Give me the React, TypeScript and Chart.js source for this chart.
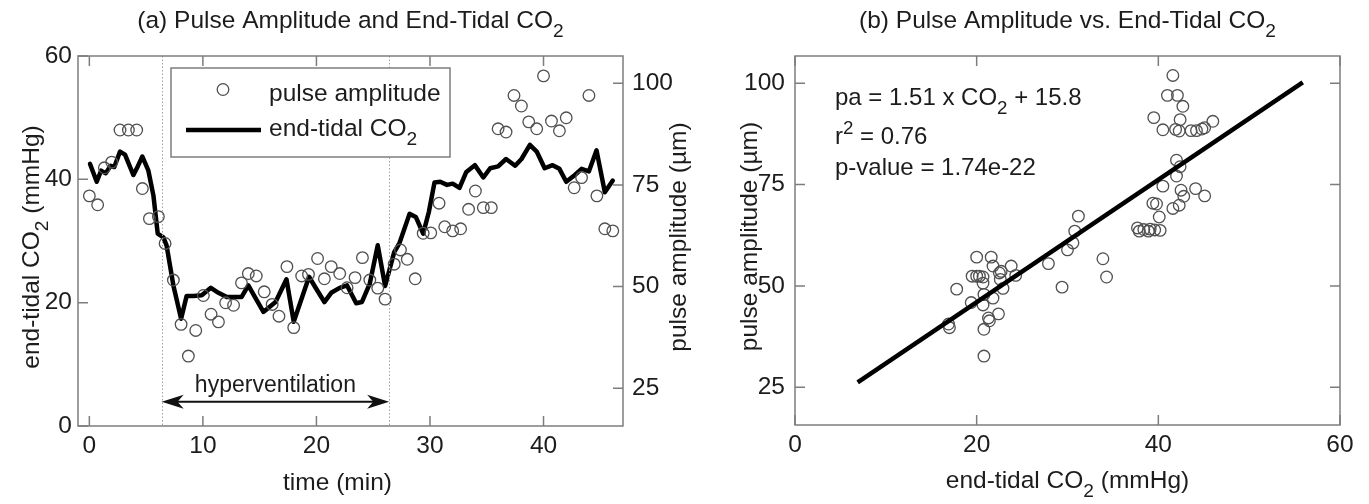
import React, { useEffect, useRef } from 'react';
import { Chart, registerables } from 'chart.js';

Chart.register(...registerables);

// ---------- data ----------
// Panel (a): pulse amplitude samples (right axis)
const paTime = [0.0, 0.73, 1.32, 1.97, 2.7, 3.44, 4.17, 4.67, 5.29, 6.08,
  6.67, 7.4, 8.08, 8.72, 9.37, 10.04, 10.72, 11.37, 12.0, 12.7,
  13.4, 14.0, 14.7, 15.4, 16.1, 16.7, 17.4, 18.0, 18.7, 19.3,
  20.1, 20.7, 21.3, 22.05, 22.7, 23.4, 24.05, 24.7, 25.4, 26.05,
  26.85, 27.4, 28.0, 28.7, 29.4, 30.07, 30.8, 31.3, 32.0, 32.7,
  33.4, 34.0, 34.7, 35.4, 36.0, 36.7, 37.4, 38.05, 38.7, 39.4,
  40.0, 40.7, 41.4, 42.0, 42.7, 43.35, 44.0, 44.7, 45.4, 46.1];
const paValues = [72.3, 70.1, 79.2, 80.6, 88.5, 88.5, 88.5, 74.1, 66.7, 67.2,
  60.6, 51.6, 40.7, 32.9, 39.2, 47.8, 43.2, 41.3, 46.0, 45.4,
  50.9, 53.2, 52.6, 48.7, 45.6, 42.7, 54.9, 39.9, 52.6, 53.0,
  56.9, 51.9, 54.9, 53.2, 49.7, 52.2, 57.1, 51.6, 49.6, 46.9,
  55.5, 59.0, 56.7, 51.9, 63.1, 63.2, 70.5, 64.7, 63.7, 64.2,
  69.0, 73.5, 69.4, 69.4, 88.8, 88.0, 97.0, 94.4, 90.5, 88.8,
  101.8, 90.7, 88.3, 91.5, 74.3, 76.8, 97.0, 72.3, 64.2, 63.7];

// Panel (a): end-tidal CO2 trace (left axis)
const co2Time = [0.06, 0.65, 1.03, 1.44, 1.88, 2.2, 2.7, 3.14, 3.88, 4.26,
  4.67, 5.2, 5.64, 6.02, 6.52, 6.8, 7.4, 8.08, 8.57, 9.16,
  9.9, 10.7, 11.37, 12.1, 13.4, 14.0, 14.65, 15.33, 16.4, 17.36,
  18.0, 19.35, 19.9, 20.7, 21.3, 22.05, 22.7, 23.5, 24.0, 24.7,
  25.4, 26.05, 26.85, 27.3, 28.2, 28.75, 29.4, 29.9, 30.4, 30.9,
  31.5, 32.0, 32.6, 33.2, 33.95, 34.7, 35.3, 36.0, 36.7, 37.5,
  38.06, 38.8, 39.4, 40.1, 40.8, 41.4, 42.0, 42.76, 43.35, 44.0,
  44.67, 45.4, 46.1];
const co2Values = [42.5, 39.6, 41.4, 41.0, 42.2, 42.0, 44.5, 44.0, 40.7, 42.1,
  43.7, 41.4, 37.4, 31.2, 30.6, 29.3, 22.8, 17.4, 21.1, 21.1,
  21.2, 22.4, 21.6, 20.9, 20.9, 22.8, 20.7, 18.5, 20.1, 23.8,
  16.9, 24.2, 22.5, 20.1, 21.6, 22.4, 22.8, 19.9, 20.1, 23.1,
  29.3, 22.7, 28.2, 29.6, 34.4, 33.9, 31.2, 34.7, 39.5, 39.6,
  39.1, 39.3, 38.6, 41.2, 42.3, 40.3, 41.8, 42.1, 43.3, 42.2,
  43.3, 45.6, 44.5, 41.8, 42.3, 41.7, 39.6, 40.7, 41.7, 41.3,
  44.7, 37.9, 39.8];

// Hyperventilation period (min) and annotation heights (mmHg)
const hyperStart = 6.37;
const hyperEnd = 26.4;
const arrowLevel = 3.95;
const hyperLabelLevel = 5.5;

// Panel (b): scatter of pulse amplitude vs end-tidal CO2
const scatterCO2 = [41.6, 41.0, 42.1, 42.7, 39.5, 42.4, 46.0, 40.5, 41.9, 42.3,
  43.6, 44.2, 44.8, 45.1,
  42.0, 42.4, 42.0, 40.5, 42.5, 44.1, 45.1, 42.8, 42.3, 41.6,
  39.4, 39.8, 40.1, 40.2, 39.1, 38.4, 37.7, 37.9, 38.9, 39.6,
  31.2, 30.8, 30.6, 30.0, 27.9, 29.4, 33.9, 34.3,
  20.0, 21.6, 21.8, 23.8, 22.7, 22.5, 19.5, 20.0, 20.3, 20.7,
  22.6, 24.3, 20.7, 22.9, 17.8, 20.8, 21.8, 19.4, 20.7, 22.4,
  21.3, 21.4, 16.9, 17.0, 20.8, 20.8];
const scatterPA = [101.9, 97.0, 97.0, 94.3, 91.5, 91.0, 90.6, 88.5, 88.6, 88.2,
  88.3, 88.3, 88.7, 89.0,
  81.0, 79.4, 77.1, 74.6, 73.6, 74.0, 72.2, 72.1, 69.9, 69.1,
  70.4, 70.2, 67.0, 63.7, 64.0, 63.9, 64.3, 63.5, 63.5, 63.8,
  67.2, 63.5, 60.6, 58.9, 55.5, 49.7, 56.7, 52.2,
  57.1, 57.1, 54.9, 54.9, 53.6, 53.2, 52.4, 52.4, 52.4, 52.2,
  51.6, 52.6, 50.7, 49.4, 49.2, 47.9, 47.0, 45.9, 45.3, 43.1,
  42.1, 41.4, 40.6, 39.7, 39.3, 32.7];

// Panel (b): regression line end points
const fitCO2 = [6.9, 55.9];
const fitPA = [26.2, 100.2];

// Axes
const timeTicks = [0, 10, 20, 30, 40];
const co2TicksA = [0, 20, 40, 60];
const paTicks = [25, 50, 75, 100];
const co2TicksB = [0, 20, 40, 60];
const timeRange = [-1, 47];
const co2RangeA = [0, 60];
const paRange = [15.7, 106.7];
const co2RangeB = [0, 60];

// ---------- drawing helpers ----------
const FONT = '"Liberation Sans", Arial, Helvetica, sans-serif';
const TEXT = '#1c1c1c';
const AXIS = '#7d7d7d';
const MARK = '#505050';
const FS = 24.5;   // titles, labels, legend
const FT = 24.5;   // tick labels
const FH = 23;     // hyperventilation note
const FSTAT = 24;  // regression stats

type Part = { t: string; sub?: boolean; sup?: boolean };

function setFont(ctx: CanvasRenderingContext2D, size: number) {
  ctx.font = `${size}px ${FONT}`;
}
function partSize(p: Part, size: number) {
  return p.sub || p.sup ? size * 0.78 : size;
}
function richWidth(ctx: CanvasRenderingContext2D, parts: Part[], size: number) {
  let w = 0;
  for (const p of parts) {
    setFont(ctx, partSize(p, size));
    w += ctx.measureText(p.t).width;
  }
  return w;
}
function drawRich(ctx: CanvasRenderingContext2D, parts: Part[], x: number, y: number, size: number, align: 'left' | 'center') {
  const w = richWidth(ctx, parts, size);
  let cx = align === 'center' ? x - w / 2 : x;
  ctx.textAlign = 'left';
  ctx.textBaseline = 'alphabetic';
  ctx.fillStyle = TEXT;
  for (const p of parts) {
    setFont(ctx, partSize(p, size));
    const dy = p.sub ? size * 0.38 : p.sup ? -size * 0.4 : 0;
    ctx.fillText(p.t, cx, y + dy);
    cx += ctx.measureText(p.t).width;
  }
}
function drawRichRotated(ctx: CanvasRenderingContext2D, parts: Part[], x: number, y: number, size: number) {
  ctx.save();
  ctx.translate(x, y);
  ctx.rotate(-Math.PI / 2);
  drawRich(ctx, parts, 0, 0, size, 'center');
  ctx.restore();
}

function drawBox(ctx: CanvasRenderingContext2D, ca: any) {
  ctx.save();
  ctx.strokeStyle = AXIS;
  ctx.lineWidth = 1.5;
  ctx.strokeRect(ca.left, ca.top, ca.right - ca.left, ca.bottom - ca.top);
  ctx.restore();
}
function drawTicks(ctx: CanvasRenderingContext2D, ca: any, scale: any, values: number[], side: 'top' | 'bottom' | 'left' | 'right') {
  const L = 10;
  ctx.save();
  ctx.strokeStyle = AXIS;
  ctx.lineWidth = 1.5;
  ctx.beginPath();
  for (const v of values) {
    const p = scale.getPixelForValue(v);
    if (side === 'bottom') { ctx.moveTo(p, ca.bottom); ctx.lineTo(p, ca.bottom - L); }
    if (side === 'top') { ctx.moveTo(p, ca.top); ctx.lineTo(p, ca.top + L); }
    if (side === 'left') { ctx.moveTo(ca.left, p); ctx.lineTo(ca.left + L, p); }
    if (side === 'right') { ctx.moveTo(ca.right, p); ctx.lineTo(ca.right - L, p); }
  }
  ctx.stroke();
  ctx.restore();
}
function arrowHead(ctx: CanvasRenderingContext2D, tipX: number, y: number, dir: number) {
  const L = 22, W = 7;
  const back = tipX - dir * L;
  const notch = tipX - dir * L * 0.72;
  ctx.beginPath();
  ctx.moveTo(tipX, y);
  ctx.lineTo(back, y - W);
  ctx.lineTo(notch, y);
  ctx.lineTo(back, y + W);
  ctx.closePath();
  ctx.fill();
}

const tickFont = { family: FONT, size: FT };

function fixedTicks(values: number[]) {
  return (s: any) => { s.ticks = values.map((v) => ({ value: v })); };
}

// ---------- panel (a) overlay ----------
const overlayA = {
  id: 'overlayA',
  afterDraw(chart: any) {
    const { ctx, chartArea: ca, scales } = chart;
    const x = scales.x, y = scales.y, y2 = scales.y2;
    ctx.save();
    // dotted period markers
    ctx.strokeStyle = '#a0a0a0';
    ctx.lineWidth = 1;
    ctx.setLineDash([1.5, 2]);
    for (const t of [hyperStart, hyperEnd]) {
      const px = Math.round(x.getPixelForValue(t)) + 0.5;
      ctx.beginPath();
      ctx.moveTo(px, ca.top);
      ctx.lineTo(px, ca.bottom);
      ctx.stroke();
    }
    ctx.setLineDash([]);
    // double arrow
    const ay = y.getPixelForValue(arrowLevel);
    const a1 = x.getPixelForValue(hyperStart);
    const a2 = x.getPixelForValue(hyperEnd);
    ctx.strokeStyle = '#111';
    ctx.fillStyle = '#111';
    ctx.lineWidth = 2;
    ctx.beginPath();
    ctx.moveTo(a1 + 8, ay);
    ctx.lineTo(a2 - 8, ay);
    ctx.stroke();
    arrowHead(ctx, a1, ay, -1);
    arrowHead(ctx, a2, ay, 1);
    drawRich(ctx, [{ t: 'hyperventilation' }], (a1 + a2) / 2, y.getPixelForValue(hyperLabelLevel), FH, 'center');

    // frame and inward ticks
    drawBox(ctx, ca);
    drawTicks(ctx, ca, x, timeTicks, 'bottom');
    drawTicks(ctx, ca, x, timeTicks, 'top');
    drawTicks(ctx, ca, y, co2TicksA, 'left');
    drawTicks(ctx, ca, y2, paTicks, 'right');

    // legend
    const lx = ca.left + 93, ly = ca.top + 12, lw = 279, lh = 89;
    ctx.fillStyle = '#fff';
    ctx.fillRect(lx, ly, lw, lh);
    ctx.strokeStyle = AXIS;
    ctx.lineWidth = 1.5;
    ctx.strokeRect(lx, ly, lw, lh);
    ctx.strokeStyle = MARK;
    ctx.lineWidth = 1.3;
    ctx.beginPath();
    ctx.arc(lx + 52, ly + 21.5, 5.8, 0, Math.PI * 2);
    ctx.stroke();
    ctx.strokeStyle = '#000';
    ctx.lineWidth = 4.5;
    ctx.beginPath();
    ctx.moveTo(lx + 15, ly + 62);
    ctx.lineTo(lx + 90, ly + 62);
    ctx.stroke();
    drawRich(ctx, [{ t: 'pulse amplitude' }], lx + 98, ly + 33, FS, 'left');
    drawRich(ctx, [{ t: 'end-tidal CO' }, { t: '2', sub: true }], lx + 98, ly + 68, FS, 'left');

    // titles and axis labels
    const cx = (ca.left + ca.right) / 2;
    const cy = (ca.top + ca.bottom) / 2;
    drawRich(ctx, [{ t: '(a) Pulse Amplitude and End-Tidal CO' }, { t: '2', sub: true }], cx, 28, FS, 'center');
    drawRich(ctx, [{ t: 'time (min)' }], cx - 13, 490, FS, 'center');
    drawRichRotated(ctx, [{ t: 'end-tidal CO' }, { t: '2', sub: true }, { t: ' (mmHg)' }], 39, cy + 6, FS);
    drawRichRotated(ctx, [{ t: 'pulse amplitude (\u00b5m)' }], ca.right + 63, cy - 4, FS);
    ctx.restore();
  },
};

// ---------- panel (b) overlay ----------
const overlayB = {
  id: 'overlayB',
  afterDraw(chart: any) {
    const { ctx, chartArea: ca, scales } = chart;
    const x = scales.x, y = scales.y;
    ctx.save();
    drawBox(ctx, ca);
    drawTicks(ctx, ca, x, co2TicksB, 'bottom');
    drawTicks(ctx, ca, x, co2TicksB, 'top');
    drawTicks(ctx, ca, y, paTicks, 'left');
    drawTicks(ctx, ca, y, paTicks, 'right');

    const tx = ca.left + 40;
    drawRich(ctx, [{ t: 'pa = 1.51 x CO' }, { t: '2', sub: true }, { t: ' + 15.8' }], tx, 105, FSTAT, 'left');
    drawRich(ctx, [{ t: 'r' }, { t: '2', sup: true }, { t: ' = 0.76' }], tx, 144, FSTAT, 'left');
    drawRich(ctx, [{ t: 'p-value = 1.74e-22' }], tx, 175, FSTAT, 'left');

    const cx = (ca.left + ca.right) / 2;
    const cy = (ca.top + ca.bottom) / 2;
    drawRich(ctx, [{ t: '(b) Pulse Amplitude vs. End-Tidal CO' }, { t: '2', sub: true }], cx, 28, FS, 'center');
    drawRich(ctx, [{ t: 'end-tidal CO' }, { t: '2', sub: true }, { t: ' (mmHg)' }], cx, 488, FS, 'center');
    drawRichRotated(ctx, [{ t: 'pulse amplitude (\u00b5m)' }], ca.left - 38, cy - 4, FS);
    ctx.restore();
  },
};

const hiddenGrid = { display: false, drawTicks: false };
const hiddenBorder = { display: false };

function configA(): any {
  return {
    type: 'scatter',
    data: {
      datasets: [
        {
          type: 'scatter',
          label: 'pulse amplitude',
          data: paTime.map((t, i) => ({ x: t, y: paValues[i] })),
          yAxisID: 'y2',
          pointRadius: 5.8,
          pointBorderWidth: 1.3,
          pointBorderColor: MARK,
          pointBackgroundColor: 'rgba(0,0,0,0)',
          order: 0,
        },
        {
          type: 'line',
          label: 'end-tidal CO2',
          data: co2Time.map((t, i) => ({ x: t, y: co2Values[i] })),
          yAxisID: 'y',
          borderColor: '#000',
          borderWidth: 4.5,
          borderJoinStyle: 'round',
          borderCapStyle: 'round',
          pointRadius: 0,
          tension: 0,
          fill: false,
          order: 1,
        },
      ],
    },
    options: {
      responsive: false,
      animation: false,
      devicePixelRatio: 1,
      events: [],
      layout: { padding: { top: 56, left: 0, right: 0, bottom: 0 }, autoPadding: false },
      plugins: { legend: { display: false }, tooltip: { enabled: false }, title: { display: false } },
      scales: {
        x: {
          type: 'linear', position: 'bottom', min: timeRange[0], max: timeRange[1],
          grid: hiddenGrid, border: hiddenBorder,
          ticks: { font: tickFont, color: TEXT, padding: 6, maxRotation: 0 },
          afterBuildTicks: fixedTicks(timeTicks),
          afterFit: (s: any) => { s.height = 78; },
        },
        y: {
          type: 'linear', position: 'left', min: co2RangeA[0], max: co2RangeA[1],
          grid: hiddenGrid, border: hiddenBorder,
          ticks: { font: tickFont, color: TEXT, padding: 6 },
          afterBuildTicks: fixedTicks(co2TicksA),
          afterFit: (s: any) => { s.width = 78; },
        },
        y2: {
          type: 'linear', position: 'right', min: paRange[0], max: paRange[1],
          grid: hiddenGrid, border: hiddenBorder,
          ticks: { font: tickFont, color: TEXT, padding: 9 },
          afterBuildTicks: fixedTicks(paTicks),
          afterFit: (s: any) => { s.width = 77; },
        },
      },
    },
    plugins: [overlayA],
  };
}

function configB(): any {
  return {
    type: 'scatter',
    data: {
      datasets: [
        {
          type: 'scatter',
          label: 'pulse amplitude',
          data: scatterCO2.map((c, i) => ({ x: c, y: scatterPA[i] })),
          pointRadius: 5.8,
          pointBorderWidth: 1.3,
          pointBorderColor: MARK,
          pointBackgroundColor: 'rgba(0,0,0,0)',
          order: 1,
        },
        {
          type: 'line',
          label: 'fit',
          data: fitCO2.map((c, i) => ({ x: c, y: fitPA[i] })),
          borderColor: '#000',
          borderWidth: 4.5,
          pointRadius: 0,
          fill: false,
          order: 0,
        },
      ],
    },
    options: {
      responsive: false,
      animation: false,
      devicePixelRatio: 1,
      events: [],
      layout: { padding: { top: 56, left: 0, right: 29, bottom: 0 }, autoPadding: false },
      plugins: { legend: { display: false }, tooltip: { enabled: false }, title: { display: false } },
      scales: {
        x: {
          type: 'linear', position: 'bottom', min: co2RangeB[0], max: co2RangeB[1],
          grid: hiddenGrid, border: hiddenBorder,
          ticks: { font: tickFont, color: TEXT, padding: 6, maxRotation: 0 },
          afterBuildTicks: fixedTicks(co2TicksB),
          afterFit: (s: any) => { s.height = 79; },
        },
        y: {
          type: 'linear', position: 'left', min: paRange[0], max: paRange[1],
          grid: hiddenGrid, border: hiddenBorder,
          ticks: { font: tickFont, color: TEXT, padding: 10 },
          afterBuildTicks: fixedTicks(paTicks),
          afterFit: (s: any) => { s.width = 95; },
        },
      },
    },
    plugins: [overlayB],
  };
}

export default function App() {
  const refA = useRef<HTMLCanvasElement>(null);
  const refB = useRef<HTMLCanvasElement>(null);
  useEffect(() => {
    const a = new Chart(refA.current as HTMLCanvasElement, configA());
    const b = new Chart(refB.current as HTMLCanvasElement, configB());
    return () => {
      a.destroy();
      b.destroy();
    };
  }, []);
  return (
    <div style={{ position: 'fixed', left: 0, top: 0, width: 1369, height: 504, background: '#fff' }}>
      <canvas ref={refA} width={700} height={504} style={{ position: 'absolute', left: 0, top: 0, width: 700, height: 504 }} />
      <canvas ref={refB} width={669} height={504} style={{ position: 'absolute', left: 700, top: 0, width: 669, height: 504 }} />
    </div>
  );
}
